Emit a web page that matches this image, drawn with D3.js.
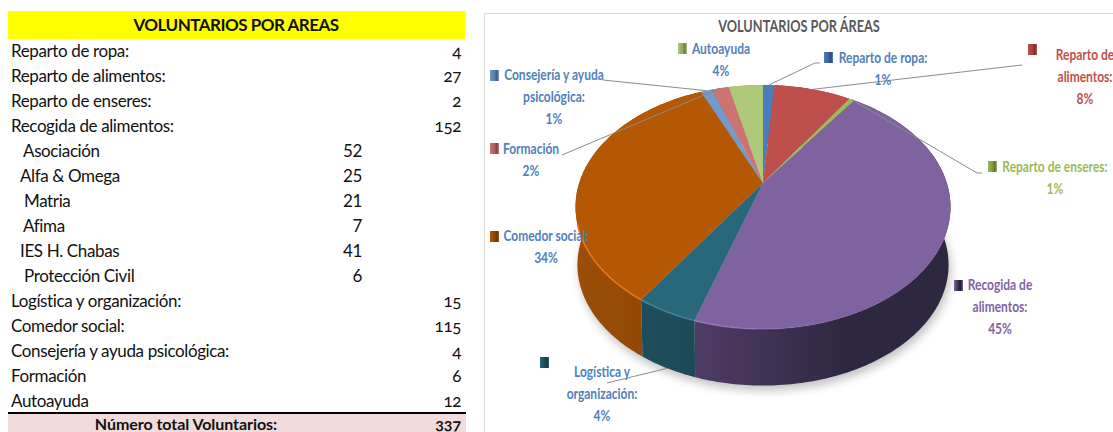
<!DOCTYPE html>
<html lang="es">
<head>
    <meta charset="UTF-8">
    <title>Voluntarios por áreas</title>
    <script src="https://d3js.org/d3.v7.min.js"></script>
    <style>
        html, body { margin: 0; padding: 0; background: #fff; overflow: hidden; }
        svg { display: block; }
        .cell { font-family: Lato, sans-serif; font-size: 17px; fill: #111; letter-spacing: -0.38px; }
        .num-old { font-variant-numeric: oldstyle-nums; }
        .head { font-family: Lato, sans-serif; font-size: 17px; font-weight: 700; fill: #111; letter-spacing: -0.5px; }
        .total { font-family: Lato, sans-serif; font-size: 16px; font-weight: 700; fill: #111; letter-spacing: -0.05px; }
        .lbl { font-family: Lato, sans-serif; font-size: 15px; font-weight: 700; text-anchor: middle; }
        .chart-title { font-family: Lato, sans-serif; font-size: 17px; font-weight: 700; fill: #595959; text-anchor: middle; }
        .leader { fill: none; stroke: #8c8c8c; stroke-width: 1; }
    </style>
</head>
<body>
    <div id="chart"></div>

    <script>
        // data
        const tableTitle = "VOLUNTARIOS POR AREAS";
        const tableLabels = ["Reparto de ropa:", "Reparto de alimentos:", "Reparto de enseres:", "Recogida de alimentos:",
            "Asociación", "Alfa & Omega", "Matria", "Afima", "IES H. Chabas", "Protección Civil",
            "Logística y organización:", "Comedor social:", "Consejería y ayuda psicológica:", "Formación", "Autoayuda"];
        const tableTotals = [4, 27, 2, 152, null, null, null, null, null, null, 15, 115, 4, 6, 12];
        const tableDetail = [null, null, null, null, 52, 25, 21, 7, 41, 6, null, null, null, null, null];
        const totalLabel = "Número total Voluntarios:";
        const totalValue = 337;

        const chartTitle = "VOLUNTARIOS POR ÁREAS";
        const areas = ["Reparto de ropa:", "Reparto de alimentos:", "Reparto de enseres:", "Recogida de alimentos:",
            "Logística y organización:", "Comedor social:", "Consejería y ayuda psicológica:", "Formación", "Autoayuda"];
        const volunteers = [4, 27, 2, 152, 15, 115, 4, 6, 12];
        const percents = ["1%", "8%", "1%", "45%", "4%", "34%", "1%", "2%", "4%"];
        const labelLines = [
            ["Reparto de ropa:"], ["Reparto de", "alimentos:"], ["Reparto de enseres:"], ["Recogida de", "alimentos:"],
            ["Logística y", "organización:"], ["Comedor social:"], ["Consejería y ayuda", "psicológica:"], ["Formación"], ["Autoayuda"]
        ];

        // colours per slice
        const topColors = ["#4a7ebb", "#bf4f4c", "#9bbb59", "#7f63a1", "#28687a", "#b45804", "#729aca", "#cd7371", "#afc97a"];
        const sideLeft = ["#3a6595", "#9a3f3d", "#7c9647", "#4f3c66", "#1e5261", "#9c4e07", "#5b7ba2", "#a45c5a", "#8ca162"];
        const sideRight = ["#3a6595", "#9a3f3d", "#7c9647", "#2e2740", "#1d4a58", "#8a4404", "#5b7ba2", "#a45c5a", "#8ca162"];
        const rimColors = ["#6f9bd1", "#d9736f", "#b5d37a", "#a585cc", "#41889c", "#e8761c", "#8fb2dc", "#e08f8d", "#c6dd98"];
        const labelColors = ["#4f81bd", "#c0504d", "#9bbb59", "#8064a2", "#4f81bd", "#4f81bd", "#4f81bd", "#4f81bd", "#4f81bd"];

        // label layout: legend key left/top, centre of the text block, first baseline, elbow of the leader
        const keyX = [824, 1028, 988, 954, 540, 490, 490, 490, 678];
        const keyY = [52, 44, 161, 280, 357, 231, 70, 143, 43];
        const textX = [883, 1085, 1055, 1000, 602, 546, 554, 531, 721];
        const textY = [63, 60, 172, 290, 377, 241, 80, 154, 54];
        const leaderEnd = [[820, 63], [1022, 65], [982, 173], null, [607, 383], null, [603, 80], [562, 155], null];
        const leaderElbow = [[815, 63], null, [977, 173], null, null, null, null, null, null];

        const width = 1113, height = 432;
        const labelSqueeze = 0.8, titleSqueeze = 0.75;

        const svg = d3.select("#chart").append("svg")
            .attr("width", width).attr("height", height);
        const defs = svg.append("defs");

        // ---- table ----
        const rowY = i => 57 + i * 25;
        const subIndent = [23, 20, 24, 23, 20, 24];

        svg.append("rect").attr("x", 8).attr("y", 11).attr("width", 457).attr("height", 28).attr("fill", "#ffff00");
        svg.append("text").attr("class", "head").attr("x", 236).attr("y", 31)
            .attr("text-anchor", "middle").text(tableTitle);

        const rows = svg.append("g").selectAll("g").data(tableLabels).enter().append("g");
        rows.append("text").attr("class", "cell")
            .attr("x", (d, i) => tableDetail[i] === null ? 11 : subIndent[i - 4])
            .attr("y", (d, i) => rowY(i))
            .text(d => d);
        rows.filter((d, i) => tableTotals[i] !== null).append("text").attr("class", "cell num-old")
            .attr("x", 461).attr("text-anchor", "end")
            .attr("y", (d) => rowY(tableLabels.indexOf(d)))
            .text(d => tableTotals[tableLabels.indexOf(d)]);
        rows.filter((d, i) => tableDetail[i] !== null).append("text").attr("class", "cell")
            .attr("x", 362).attr("text-anchor", "end")
            .attr("y", (d) => rowY(tableLabels.indexOf(d)))
            .text(d => tableDetail[tableLabels.indexOf(d)]);

        svg.append("rect").attr("x", 8).attr("y", 414).attr("width", 458).attr("height", 18).attr("fill", "#f2dcdb");
        svg.append("line").attr("x1", 8).attr("x2", 466).attr("y1", 413).attr("y2", 413)
            .attr("stroke", "#000").attr("stroke-width", 2);
        svg.append("text").attr("class", "total").attr("x", 186).attr("y", 430)
            .attr("text-anchor", "middle").text(totalLabel);
        svg.append("text").attr("class", "total num-old").attr("x", 461).attr("y", 430)
            .attr("text-anchor", "end").text(totalValue);

        // ---- chart frame ----
        svg.append("path").attr("d", "M484.5,432V13.5H1113").attr("fill", "none").attr("stroke", "#d9d9d9");
        svg.append("text").attr("class", "chart-title")
            .attr("transform", "translate(799,32) scale(" + titleSqueeze + ",1)").text(chartTitle);

        // ---- pie in perspective ----
        const cx = 763, cy = 183;
        const k = 0.1967, a = 117.3, b = 183.8;
        const depth = 58, baseScale = 0.99;

        // angle clockwise from the top, r in 0..1, projected on the tilted disc
        function project(angle, r, lower) {
            const u = r * Math.sin(angle), v = -r * Math.cos(angle);
            const w = 1 - k * v;
            const s = lower ? baseScale : 1;
            return [cx + s * b * u / w, cy + (lower ? depth : 0) + s * a * v / w];
        }
        function arcPoints(d, lower) {
            const n = Math.max(2, Math.ceil((d.endAngle - d.startAngle) * 60));
            return d3.range(n + 1).map(i => project(d.startAngle + (d.endAngle - d.startAngle) * i / n, 1, lower));
        }
        const line = d3.line();
        const pie = d3.pie().sort(null).value(d => d);
        const slices = pie(volunteers);

        // shadow under the pie
        const blur = defs.append("filter").attr("id", "soft")
            .attr("x", "-10%").attr("y", "-10%").attr("width", "120%").attr("height", "120%");
        blur.append("feGaussianBlur").attr("stdDeviation", 5);
        svg.append("path")
            .attr("d", line(d3.range(121).map(i => project(i / 120 * 2 * Math.PI, 1, true))) + "Z")
            .attr("transform", "translate(2,5)")
            .attr("fill", "#8f8f8f").attr("opacity", 0.55).attr("filter", "url(#soft)");

        // side walls
        const pieX = d3.extent(d3.range(121).map(i => project(i / 120 * 2 * Math.PI, 1, false)[0]));
        slices.forEach((d, i) => {
            const grad = defs.append("linearGradient").attr("id", "side" + i)
                .attr("gradientUnits", "userSpaceOnUse")
                .attr("x1", i === 3 ? 695 : pieX[0]).attr("x2", i === 3 ? 850 : 690).attr("y1", 0).attr("y2", 0);
            grad.append("stop").attr("offset", 0).attr("stop-color", sideLeft[i]);
            grad.append("stop").attr("offset", 1).attr("stop-color", sideRight[i]);
        });
        svg.append("g").selectAll("path").data(slices).enter().append("path")
            .attr("d", d => line(arcPoints(d, false).concat(arcPoints(d, true).reverse())) + "Z")
            .attr("fill", (d, i) => "url(#side" + i + ")");

        // top surface
        svg.append("g").selectAll("path").data(slices).enter().append("path")
            .attr("d", d => line([project(0, 0, false)].concat(arcPoints(d, false))) + "Z")
            .attr("fill", (d, i) => topColors[i]);

        // lit rim along the front edge only, fading towards the right
        slices.forEach((d, i) => {
            const grad = defs.append("linearGradient").attr("id", "rim" + i)
                .attr("gradientUnits", "userSpaceOnUse")
                .attr("x1", 640).attr("x2", 830).attr("y1", 0).attr("y2", 0);
            grad.append("stop").attr("offset", 0).attr("stop-color", rimColors[i]);
            grad.append("stop").attr("offset", 1).attr("stop-color", rimColors[i]).attr("stop-opacity", 0);
        });
        svg.append("g").selectAll("path").data(slices.filter(d => d.endAngle > Math.PI / 2 && d.startAngle < 1.6 * Math.PI))
            .enter().append("path")
            .attr("d", d => line(arcPoints(d, false).filter(p => p[1] > cy + 40)))
            .attr("fill", "none").attr("stroke-width", 1.6)
            .attr("stroke", d => "url(#rim" + d.index + ")");

        // leader lines start on the middle of their slice
        slices.forEach((d, i) => {
            if (!leaderEnd[i]) return;
            const mid = (d.startAngle + d.endAngle) / 2;
            const pts = [project(mid, 1, i === 4)];
            if (leaderElbow[i]) pts.push(leaderElbow[i]);
            pts.push(leaderEnd[i]);
            svg.append("path").attr("class", "leader").attr("d", line(pts));
        });

        // legend keys and labels
        slices.forEach((d, i) => {
            const grad = defs.append("linearGradient").attr("id", "key" + i);
            grad.append("stop").attr("offset", 0).attr("stop-color", topColors[i]);
            grad.append("stop").attr("offset", 0.55).attr("stop-color", sideRight[i]);
            grad.append("stop").attr("offset", 0.75).attr("stop-color", d3.color(sideRight[i]).darker(0.8));
            grad.append("stop").attr("offset", 1).attr("stop-color", topColors[i]);
            svg.append("rect").attr("x", keyX[i]).attr("y", keyY[i]).attr("width", 9).attr("height", 11)
                .attr("fill", "url(#key" + i + ")");

            const lines = labelLines[i].concat(percents[i]);
            svg.append("text").attr("class", "lbl").attr("fill", labelColors[i])
                .attr("transform", "translate(" + textX[i] + "," + textY[i] + ") scale(" + labelSqueeze + ",1)")
                .selectAll("tspan").data(lines).enter().append("tspan")
                .attr("x", 0)
                .attr("y", (t, j) => j * 22)
                .text(t => t);
        });
    </script>
</body>
</html>
